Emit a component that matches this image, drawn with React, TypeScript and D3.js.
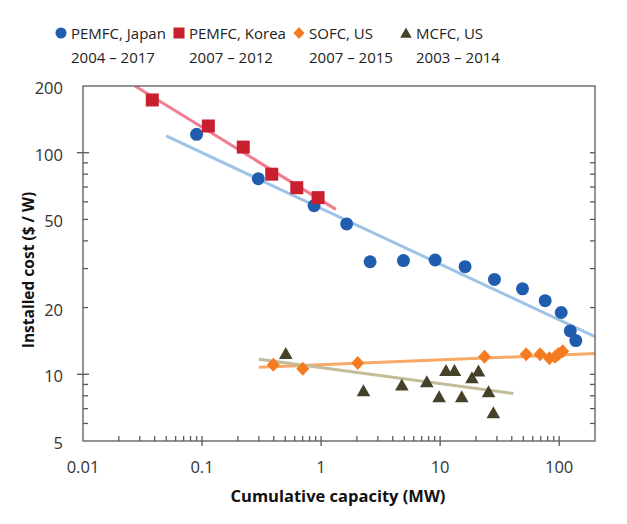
import * as d3 from 'd3';

// cumulative capacity (MW) and installed cost ($/W)
const japanX = [0.09, 0.297, 0.873, 1.64, 2.58, 4.92, 9.08, 16.2, 28.6, 49.2, 76.3, 104, 124, 138];
const japanY = [121, 76.3, 57.7, 47.7, 32.2, 32.6, 32.8, 30.6, 26.8, 24.3, 21.5, 19.0, 15.7, 14.2];
const koreaX = [0.0382, 0.113, 0.222, 0.385, 0.625, 0.944];
const koreaY = [173, 132, 106, 80, 69.5, 62.7];
const sofcX = [0.397, 0.702, 2.03, 23.6, 52.8, 69.2, 82.9, 92.5, 98.6, 107];
const sofcY = [11.05, 10.6, 11.25, 12.0, 12.3, 12.3, 11.8, 12.0, 12.35, 12.7];
const mcfcX = [0.505, 2.27, 4.77, 7.73, 9.81, 11.2, 13.2, 15.2, 18.5, 21.0, 25.5, 28.0];
const mcfcY = [12.4, 8.43, 8.95, 9.26, 7.92, 10.4, 10.4, 7.92, 9.65, 10.35, 8.35, 6.71];

// experience-curve fits (start / end)
const japanFitX = [0.05, 200];
const japanFitY = [119, 14.8];
const koreaFitX = [0.0273, 1.33];
const koreaFitY = [200, 55.5];
const sofcFitX = [0.3, 200];
const sofcFitY = [10.75, 12.4];
const mcfcFitX = [0.3, 41.3];
const mcfcFitY = [11.7, 8.2];

const legendNames = ['PEMFC, Japan', 'PEMFC, Korea', 'SOFC, US', 'MCFC, US'];
const legendYears = ['2004 – 2017', '2007 – 2012', '2007 – 2015', '2003 – 2014'];

const xLabels = [0.01, 0.1, 1, 10, 100];
const yLabels = [5, 10, 20, 50, 100, 200];

const W = 627;
const H = 524;
const left = 83, right = 595, top = 86, bottom = 441;
const font = '"Open Sans", "Noto Sans", sans-serif';
const axisColor = '#595959';

const colors = {
  japan: '#215daf',
  korea: '#c9202f',
  sofc: '#f47b20',
  mcfc: '#46422a',
  japanFit: '#9dc3e6',
  koreaFit: '#f27d91',
  sofcFit: '#f9a866',
  mcfcFit: '#c2bd99',
};

const marker = (kind: string) => {
  switch (kind) {
    case 'circle':
      return d3.symbol(d3.symbolCircle, 6.5 * 6.5 * Math.PI)()!;
    case 'square':
      return 'M-6.5,-6.5H6.5V6.5H-6.5Z';
    case 'diamond':
      return 'M0,-7L6.5,0L0,7L-6.5,0Z';
    default:
      return 'M0,-6.5L6.8,5.5L-6.8,5.5Z';
  }
};

const App = () => {
  const x = d3.scaleLog().domain([0.01, 200]).range([left, right]);
  const y = d3.scaleLog().domain([5, 200]).range([bottom, top]);

  const fmt = (v: number) => (v < 1 ? String(v) : d3.format('d')(v));
  const xMinor = x.ticks().filter((v) => v <= 100 && !xLabels.includes(v));
  const yMinor = y.ticks().filter((v) => v < 100 && v > 5 && v !== 10 && v !== 100);
  const yMajor = [10, 100];

  const line = d3
    .line<[number, number]>()
    .x((d) => x(d[0]))
    .y((d) => y(d[1]));
  const fit = (xs: number[], ys: number[]) => line(xs.map((v, i) => [v, ys[i]] as [number, number])) || '';

  const series = [
    { xs: japanX, ys: japanY, kind: 'circle', color: colors.japan },
    { xs: koreaX, ys: koreaY, kind: 'square', color: colors.korea },
    { xs: sofcX, ys: sofcY, kind: 'diamond', color: colors.sofc },
    { xs: mcfcX, ys: mcfcY, kind: 'triangle', color: colors.mcfc },
  ];
  const legendX = [61, 179, 299, 406];

  return (
    <svg
      width={W}
      height={H}
      style={{ position: 'absolute', left: 0, top: 0, background: '#fff', fontFamily: font }}
    >
      <defs>
        <clipPath id="plot">
          <rect x={left} y={top} width={right - left} height={bottom - top} />
        </clipPath>
      </defs>

      {/* legend */}
      {legendNames.map((name, i) => (
        <g key={name} transform={`translate(${legendX[i]},33)`}>
          <path d={marker(series[i].kind)} fill={series[i].color} transform="scale(0.85)" />
          <text x={10} y={6} fontSize={15} fill="#222">
            {name}
          </text>
          <text x={10} y={30} fontSize={15} fill="#222">
            {legendYears[i]}
          </text>
        </g>
      ))}

      {/* fits */}
      <g clipPath="url(#plot)" fill="none" strokeWidth={3}>
        <path d={fit(japanFitX, japanFitY)} stroke={colors.japanFit} />
        <path d={fit(koreaFitX, koreaFitY)} stroke={colors.koreaFit} />
        <path d={fit(sofcFitX, sofcFitY)} stroke={colors.sofcFit} />
        <path d={fit(mcfcFitX, mcfcFitY)} stroke={colors.mcfcFit} />
      </g>

      {/* frame */}
      <rect x={left} y={top} width={right - left} height={bottom - top} fill="none" stroke={axisColor} strokeWidth={1.3} />

      {/* x ticks */}
      {xLabels.map((v) => (
        <g key={`xl${v}`}>
          {v > 0.01 && <line x1={x(v)} x2={x(v)} y1={bottom - 5} y2={bottom + 5} stroke={axisColor} strokeWidth={1.3} />}
          <text x={x(v)} y={bottom + 32} textAnchor="middle" fontSize={16.5} fill="#333">
            {fmt(v)}
          </text>
        </g>
      ))}
      {xMinor.map((v) => (
        <line key={`xm${v}`} x1={x(v)} x2={x(v)} y1={bottom - 5} y2={bottom} stroke={axisColor} strokeWidth={1.3} />
      ))}

      {/* y ticks */}
      {yMajor.map((v) => (
        <g key={`ym${v}`}>
          <line x1={left - 6} x2={left + 6} y1={y(v)} y2={y(v)} stroke={axisColor} strokeWidth={1.3} />
          <line x1={right - 5} x2={right} y1={y(v)} y2={y(v)} stroke={axisColor} strokeWidth={1.3} />
        </g>
      ))}
      {yMinor.map((v) => (
        <g key={`yn${v}`}>
          <line x1={left} x2={left + 5} y1={y(v)} y2={y(v)} stroke={axisColor} strokeWidth={1.3} />
          <line x1={right - 5} x2={right} y1={y(v)} y2={y(v)} stroke={axisColor} strokeWidth={1.3} />
        </g>
      ))}
      {yLabels.map((v) => (
        <text key={`yt${v}`} x={left - 20} y={y(v) + 8} textAnchor="end" fontSize={16.5} fill="#333">
          {v}
        </text>
      ))}

      {/* markers */}
      {series.map((s) =>
        s.xs.map((v, i) => (
          <path
            key={`${s.kind}${i}`}
            d={marker(s.kind)}
            transform={`translate(${x(v)},${y(s.ys[i])})`}
            fill={s.color}
          />
        ))
      )}

      {/* axis titles */}
      <text x={338} y={502} textAnchor="middle" fontSize={16.5} fontWeight="bold" fill="#111">
        Cumulative capacity (MW)
      </text>
      <text
        transform="translate(34,270) rotate(-90)"
        textAnchor="middle"
        fontSize={15.5}
        fontWeight="bold"
        fill="#111"
      >
        Installed cost ($ / W)
      </text>
    </svg>
  );
};

export default App;
